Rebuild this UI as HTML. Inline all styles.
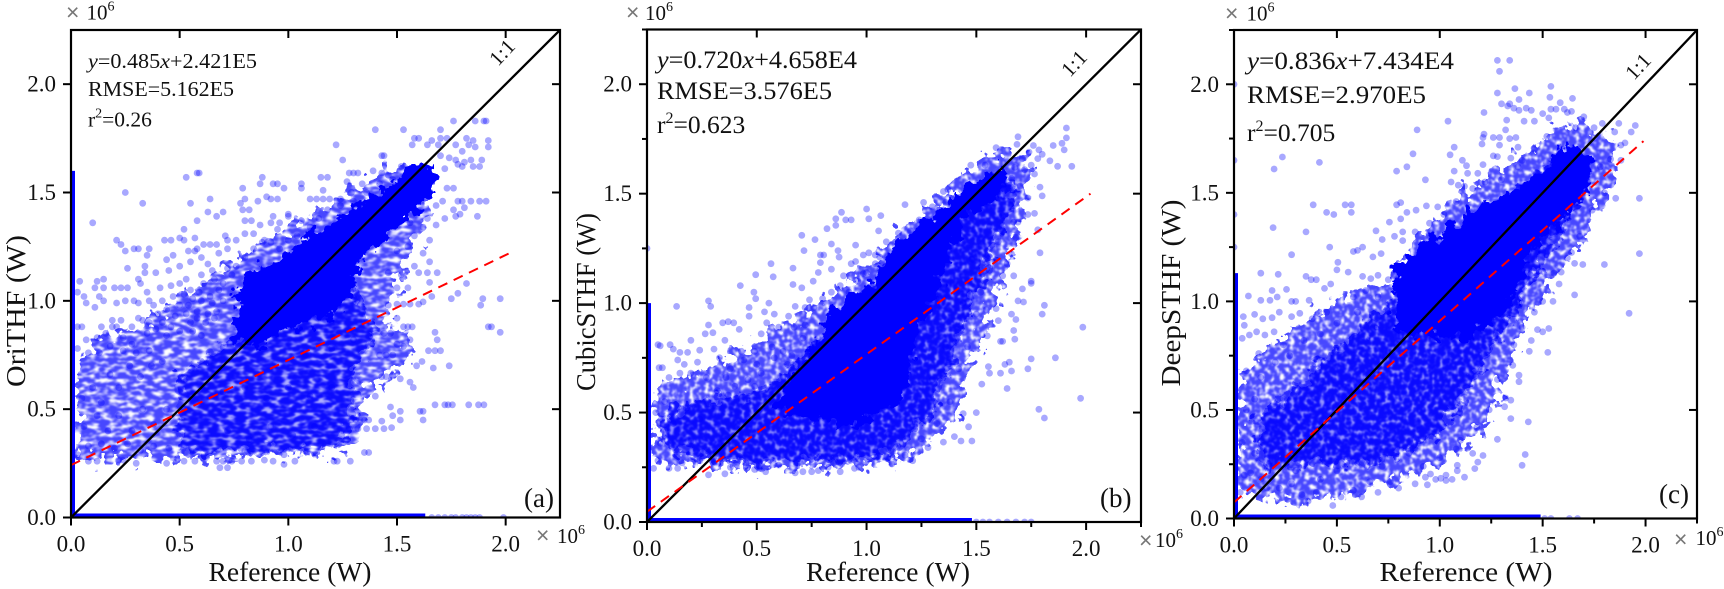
<!DOCTYPE html>
<html lang="en">
<head>
<meta charset="utf-8">
<title>Reference vs estimated THF scatter panels</title>
<style>
html,body{margin:0;padding:0;background:#fff;}
svg{display:block;}
text{font-family:"Liberation Serif",serif;fill:#111;}
.tick{font-size:23px;}
.title{font-size:27px;}
.note{font-size:21.5px;}
.note-big{font-size:25.5px;}
.tag{font-size:27px;}
.exp{font-size:21px;}
.times{font-family:"Liberation Sans",sans-serif;font-size:23px;fill:#777;}
</style>
</head>
<body>
<svg id="figure" width="1724" height="589" viewBox="0 0 1724 589" xmlns="http://www.w3.org/2000/svg">
<defs>
<clipPath id="clip-a"><rect x="71" y="30" width="489" height="487.5"/></clipPath>
<clipPath id="clip-b"><rect x="647" y="29.5" width="494" height="492.5"/></clipPath>
<clipPath id="clip-c"><rect x="1234" y="30" width="463" height="488.5"/></clipPath>
<filter id="rough" x="-8%" y="-8%" width="116%" height="116%" color-interpolation-filters="sRGB">
  <feTurbulence type="fractalNoise" baseFrequency="0.11" numOctaves="3" seed="5" result="n"/>
  <feDisplacementMap in="SourceGraphic" in2="n" scale="26" xChannelSelector="R" yChannelSelector="G"/>
</filter>
<filter id="speckle" x="-8%" y="-8%" width="116%" height="116%" color-interpolation-filters="sRGB">
  <feTurbulence type="fractalNoise" baseFrequency="0.09" numOctaves="3" seed="11" result="n"/>
  <feDisplacementMap in="SourceGraphic" in2="n" scale="34" xChannelSelector="R" yChannelSelector="G" result="d"/>
  <feTurbulence type="fractalNoise" baseFrequency="0.2" numOctaves="2" seed="3" result="n2"/>
  <feColorMatrix in="n2" type="matrix" values="0 0 0 0 0  0 0 0 0 0  0 0 0 0 0  4 0 0 0 -1.1" result="holes"/>
  <feGaussianBlur in="holes" stdDeviation="0.7" result="soft"/>
  <feComposite in="d" in2="soft" operator="in"/>
</filter>
<filter id="speckle-rows" x="-8%" y="-8%" width="116%" height="116%" color-interpolation-filters="sRGB">
  <feTurbulence type="fractalNoise" baseFrequency="0.09" numOctaves="3" seed="11" result="n"/>
  <feDisplacementMap in="SourceGraphic" in2="n" scale="34" xChannelSelector="R" yChannelSelector="G" result="d"/>
  <feTurbulence type="fractalNoise" baseFrequency="0.11 0.24" numOctaves="2" seed="8" result="n2"/>
  <feColorMatrix in="n2" type="matrix" values="0 0 0 0 0  0 0 0 0 0  0 0 0 0 0  4 0 0 0 -1.2" result="holes"/>
  <feGaussianBlur in="holes" stdDeviation="0.7" result="soft"/>
  <feComposite in="d" in2="soft" operator="in"/>
</filter>
</defs>

<g id="panel-a">
<g id="marks-a" clip-path="url(#clip-a)"></g>
<g id="axes-a"></g>
<text class="title" x="290" y="581" text-anchor="middle" textLength="163" lengthAdjust="spacingAndGlyphs">Reference (W)</text>
<text class="title" transform="translate(25,311) rotate(-90)" text-anchor="middle" textLength="152" lengthAdjust="spacingAndGlyphs">OriTHF (W)</text>
<text class="note" x="88" y="68" textLength="169" lengthAdjust="spacingAndGlyphs"><tspan font-style="italic">y</tspan>=0.485<tspan font-style="italic">x</tspan>+2.421E5</text>
<text class="note" x="88" y="96" textLength="146" lengthAdjust="spacingAndGlyphs">RMSE=5.162E5</text>
<text class="note" x="88" y="126.5" font-size="22.5">r<tspan font-size="14" dy="-9">2</tspan><tspan dy="9">=0.26</tspan></text>
<text class="tag" x="524" y="507">(a)</text>
<text font-size="21" transform="translate(498,67) rotate(-47)">1:1</text>
<text class="times" x="66" y="20">×</text>
<text class="exp" x="86.5" y="19.5">10<tspan font-size="14" dy="-9">6</tspan></text>
<text class="times" x="536" y="543">×</text>
<text class="exp" x="557" y="543">10<tspan font-size="14" dy="-9">6</tspan></text>
</g>

<g id="panel-b">
<g id="marks-b" clip-path="url(#clip-b)"></g>
<g id="axes-b"></g>
<text class="title" x="888" y="581" text-anchor="middle" textLength="164" lengthAdjust="spacingAndGlyphs">Reference (W)</text>
<text class="title" transform="translate(595,302) rotate(-90)" text-anchor="middle" textLength="178" lengthAdjust="spacingAndGlyphs">CubicSTHF (W)</text>
<text class="note-big" x="657" y="68" textLength="200" lengthAdjust="spacingAndGlyphs"><tspan font-style="italic">y</tspan>=0.720<tspan font-style="italic">x</tspan>+4.658E4</text>
<text class="note-big" x="657" y="99" textLength="175" lengthAdjust="spacingAndGlyphs">RMSE=3.576E5</text>
<text class="note-big" x="657" y="133" font-size="26.5">r<tspan font-size="16" dy="-10">2</tspan><tspan dy="10">=0.623</tspan></text>
<text class="tag" x="1100" y="507">(b)</text>
<text font-size="21" transform="translate(1070,78) rotate(-47)">1:1</text>
<text class="times" x="626" y="20">×</text>
<text class="exp" x="645" y="20">10<tspan font-size="14" dy="-9">6</tspan></text>
<text class="times" x="1139" y="548">×</text>
<text class="exp" x="1155" y="547">10<tspan font-size="14" dy="-9">6</tspan></text>
</g>

<g id="panel-c">
<g id="marks-c" clip-path="url(#clip-c)"></g>
<g id="axes-c"></g>
<text class="title" x="1466" y="581" text-anchor="middle" textLength="173" lengthAdjust="spacingAndGlyphs">Reference (W)</text>
<text class="title" transform="translate(1180,293) rotate(-90)" text-anchor="middle" textLength="187" lengthAdjust="spacingAndGlyphs">DeepSTHF (W)</text>
<text class="note-big" x="1247" y="69" textLength="207" lengthAdjust="spacingAndGlyphs"><tspan font-style="italic">y</tspan>=0.836<tspan font-style="italic">x</tspan>+7.434E4</text>
<text class="note-big" x="1247" y="103" textLength="179" lengthAdjust="spacingAndGlyphs">RMSE=2.970E5</text>
<text class="note-big" x="1247" y="141">r<tspan font-size="16" dy="-10">2</tspan><tspan dy="10">=0.705</tspan></text>
<text class="tag" x="1659" y="503">(c)</text>
<text font-size="21" transform="translate(1634,81) rotate(-47)">1:1</text>
<text class="times" x="1225" y="21">×</text>
<text class="exp" x="1246.5" y="20.5">10<tspan font-size="14" dy="-9">6</tspan></text>
<text class="times" x="1674" y="547">×</text>
<text class="exp" x="1695.5" y="545">10<tspan font-size="14" dy="-9">6</tspan></text>
</g>
</svg>

<script>
// Shared axis values (units of 10^6 W)
const tickValues = [0, 0.5, 1, 1.5, 2];
const tickLabels = ['0.0', '0.5', '1.0', '1.5', '2.0'];
const minorTickValues = [0.25, 0.75, 1.25, 1.75, 2.25];
const identityLine = [0, 2.25];

// Fit lines
const fitXA = [0, 2.036];
const fitYA = [0.242, 1.229];
const fitXB = [0, 2.02];
const fitYB = [0.047, 1.5];
const fitXC = [0, 1.99];
const fitYC = [0.074, 1.738];

// Extent of the solid runs of zero-valued samples along each axis
const zeroRefEndA = [1.6];
const zeroRefEndB = [1.0];
const zeroRefEndC = [1.13];
const zeroEstEndA = [1.63];
const zeroEstEndB = [1.48];
const zeroEstEndC = [1.49];

// Sparse samples on the zero lines
const zeroEstSparseA = [1.66,1.69,1.72,1.75,1.77,1.8,1.82,1.84,1.86,1.88,1.99];
const zeroEstSparseB = [1.5,1.53,1.56,1.6,1.64,1.68,1.72,1.75];
const zeroEstSparseC = [1.51,1.54,1.63,1.67];
const zeroRefSparseC = [1.25,1.4,1.65,2.0];
const zeroRefSparseB = [1.25];

// Region outlines (x,y alternating) for the areas too dense to resolve single samples
const cloudA = [.03,.27,.5,.27,1.25,.3,1.35,.38,1.33,.55,1.42,.62,1.55,.72,1.55,.85,1.45,.9,1.5,1.1,1.6,1.3,1.66,1.45,1.64,1.62,1.5,1.62,1.3,1.52,1.05,1.36,.85,1.25,.7,1.15,.45,.98,.3,.88,.1,.8,.03,.65];
const midA = [.5,.3,1.22,.32,1.3,.45,1.3,.7,1.4,.85,1.3,1.05,1.0,.95,.7,.8,.5,.65];
const coreA = [.785,1.125,.946,1.17,1.115,1.325,1.27,1.4,1.42,1.51,1.575,1.617,1.65,1.625,1.68,1.54,1.605,1.43,1.5,1.34,1.345,1.2,1.3,1.063,1.22,.94,.99,.863,.855,.786,.747,.817,.762,1];
const cloudB = [.03,.28,.25,.26,.5,.24,1.05,.26,1.25,.32,1.4,.45,1.45,.65,1.55,.9,1.65,1.2,1.72,1.42,1.74,1.66,1.6,1.7,1.3,1.46,1.08,1.25,.9,1.08,.78,1.0,.65,.92,.45,.8,.25,.68,.05,.62];
const midB = [.4,.27,1.1,.3,1.3,.5,1.42,.85,1.58,1.25,1.68,1.5,1.6,1.6,1.3,1.35,1,1.05,.75,.8,.55,.6,.25,.55,.08,.5,.08,.35,.2,.3];
const coreB = [.78,.83,.84,.98,1.02,1.09,1.11,1.24,1.31,1.41,1.43,1.51,1.61,1.63,1.64,1.59,1.6,1.47,1.46,1.4,1.39,1.25,1.31,1.01,1.235,.89,1.17,.555,.93,.43,.7,.48,.57,.525];
const cloudC = [.02,.12,.25,.07,.55,.1,.85,.2,1.05,.28,1.22,.42,1.35,.75,1.45,.95,1.58,1.15,1.74,1.35,1.87,1.6,1.82,1.78,1.6,1.82,1.35,1.64,1.15,1.52,.95,1.36,.78,1.1,.55,1.03,.35,.92,.15,.78,.03,.65];
const midC = [.3,.25,.7,.25,1,.4,1.2,.7,1.38,1,1.6,1.35,1.75,1.6,1.6,1.7,1.3,1.45,1,1.25,.75,.98,.5,.78,.3,.6,.12,.45,.12,.25];
const coreC = [.78,1.16,.89,1.25,1.06,1.345,1.18,1.44,1.3,1.48,1.48,1.59,1.62,1.73,1.75,1.66,1.7,1.47,1.54,1.33,1.41,1.16,1.35,.98,1.15,.82,.89,.85,.78,.87];

// Individual samples: reference, estimate alternating (units of 10^6 W)
const samplesOriTHF = [
1.91,1.83,1.9,1.83,1.86,1.83,1.76,1.83,1.4,1.79,1.53,1.79,1.7,1.79,1.22,1.72,1.58,1.75,1.6,1.75,1.66,1.74,1.7,1.75,1.73,1.75,1.82,1.75,1.85,1.74,1.92,1.74,1.57,1.72,1.64,1.72,1.69,1.72,1.77,1.72,1.83,1.72,1.86,1.71,1.92,1.71,1.43,1.67,1.44,1.67,1.25,1.65,1.8,1.69,1.7,1.67,1.74,1.66,1.77,1.65,1.78,1.63,1.81,1.64,1.84,1.65,1.89,1.65,1.8,1.62,1.85,1.62,1.88,1.62,1.72,1.61,
1.28,1.59,1.3,1.59,1.32,1.59,1.39,1.6,1.43,1.59,1.46,1.58,.59,1.59,.58,1.59,.53,1.57,1.15,1.57,1.18,1.57,.88,1.57,.87,1.54,.93,1.54,.95,1.54,.79,1.52,.98,1.52,1.06,1.54,1.06,1.52,1.16,1.51,1.27,1.55,1.34,1.54,1.73,1.52,1.76,1.52,1.71,1.46,1.78,1.46,1.8,1.46,1.84,1.46,1.88,1.46,1.91,1.46,1.76,1.42,1.79,1.4,1.81,1.43,1.87,1.39,1.77,1.39,
.25,1.5,.33,1.45,.55,1.45,.64,1.47,.8,1.47,.86,1.46,.9,1.48,.92,1.47,.95,1.47,1.1,1.47,1.13,1.47,1.16,1.47,1.19,1.47,1.24,1.47,1.29,1.5,.63,1.41,.7,1.41,.78,1.45,.79,1.42,.82,1.42,.67,1.39,.1,1.36,.58,1.37,.8,1.37,.83,1.37,.93,1.39,1,1.4,1,1.39,.92,1.36,.96,1.36,1.06,1.37,.52,1.33,.57,1.29,.95,1.33,.87,1.35,.84,1.31,.71,1.3,
.21,1.28,.23,1.26,.43,1.28,.46,1.28,.5,1.29,.52,1.28,.8,1.31,.76,1.28,.72,1.28,.89,1.28,.92,1.27,.25,1.23,.29,1.24,.31,1.24,.36,1.24,.35,1.21,.61,1.26,.58,1.24,.64,1.26,.67,1.26,.72,1.24,.68,1.22,.47,1.21,.44,1.19,.54,1.23,.57,1.23,.6,1.2,.63,1.17,.26,1.15,.34,1.16,.34,1.13,.39,1.13,.45,1.14,.5,1.16,.55,1.18,.31,1.1,.32,1.08,
.04,1.09,.15,1.1,.12,1.09,.11,1.06,.26,1.06,.23,1.06,.2,1.06,.15,1.06,.53,1.1,.66,1.1,.03,1.04,.06,1.02,.13,1.02,.15,1,.11,.97,.07,.99,.21,.99,.25,1,.29,1,.31,.99,.35,1.04,.36,1,.41,1.06,.46,1.07,.5,1.08,.55,1.05,.59,1.04,.61,1.08,.03,.88,.05,.88,.14,.88,.19,.91,.23,.91,.19,.88,.21,.88,.28,.88,.31,.92,.33,.91,.36,.9,.4,.94,.44,.96,.5,.98,.54,.98,.58,.95,.65,.99,
.07,.82,.12,.83,.16,.85,.24,.83,.28,.8,.35,.85,.39,.87,.44,.84,.5,.86,.55,.9,.62,.9,.67,.95,.7,1,.03,.78,.08,.76,.13,.76,.18,.79,.24,.77,.3,.76,.36,.77,
.38,.98,.42,1,.47,1.02,.52,1.03,.56,1.01,.6,1,.64,1.02,.68,1.05,.7,1.08,.74,1.12,.76,1.16,.72,1.15,.65,1.14,.6,1.12,.48,.93,.53,.94,.58,.92,.63,.94,.66,.92,.42,.9,.46,.88,.56,.86,.6,.84,
.8,1.2,.84,1.24,.88,1.27,.96,1.24,1,1.28,1.04,1.3,1.1,1.34,1.14,1.38,1.18,1.42,1.24,1.44,1.3,1.46,1.36,1.5,1.42,1.54,1.48,1.56,1.52,1.62,
1.675,.52,1.72,.52,1.735,.52,1.755,.52,1.83,.52,1.875,.52,1.9,.52,1.935,.88,1.92,.88,1.975,.855,1.885,.98,1.895,1.01,1.975,1.01,1.82,1.08,1.78,1.035,1.75,1.01,1.685,1.13,1.65,1.18,1.6,1.13,1.64,1.13,1.65,1.085,1.66,1.02,1.62,.995,1.675,.855,1.685,.82,1.645,.77,1.675,.77,1.7,.77,1.615,.72,1.59,.7,1.667,.69,1.74,.7,1.515,.49,1.606,.49,1.62,.49,1.62,.45,1.47,.51,1.48,.47,1.515,.45,1.43,.445,1.475,.415,1.44,.41,1.4,.41,1.4,.56,1.43,.65,1.45,.65,1.48,.655,1.515,.64,1.56,.625,1.575,.6,1.35,.3,1.37,.3,1.21,.26,1.225,.26,1.285,.26,
.685,.23,.72,.23,.67,.26,.7,.26,.74,.26,.785,.26,.83,.26,.89,.265,.93,.26,.98,.245,1.03,.26,.98,.29,.44,.25,.52,.26,.57,.26,.3,.25,.22,.265,.24,.265,.12,.26,.08,.26,.03,.29,
1.29,.45,1.31,.45,1.33,.45,1.35,.45,1.37,.45,1.28,.41,1.32,.41,1.36,.41,1.53,.88,1.55,.88,1.57,.88,1.5,.985,1.53,.985,1.56,.985,1.6,.985,1.42,.75,1.45,.75,1.48,.75,1.5,.8,1.53,.79,1.56,.82,1.44,.85,1.47,.85,1.5,.92,1.46,.98,1.5,1.06,1.55,1.06,1.52,1.12,1.46,1.13,1.5,1.23,1.55,1.25,1.58,1.3,1.62,1.34,1.56,1.36,1.64,1.38,1.68,1.44,1.72,1.38,1.68,1.35,1.65,1.28,1.62,1.22,1.58,1.16,
.05,.55,.1,.6,.14,.53,.18,.66,.22,.6,.27,.7,.32,.65,.37,.7,.42,.72,.06,.42,.12,.47,.17,.4,.22,.47,.28,.4,.33,.5,.38,.43,.44,.5,.08,.33,.14,.34,.2,.32,.26,.34,.32,.31,.38,.33,.45,.32,.62,.6,.7,.58,.8,.6,.9,.55,1,.6,1.1,.56,1.2,.6,1.08,.75,1.2,.78,1.3,.82,.72,.4,.82,.36,.92,.42,1.02,.38,1.12,.42
];
const samplesCubicSTHF = [
1.69,1.76,1.59,1.71,1.76,1.72,1.74,1.69,1.78,1.66,1.475,1.63,1.54,1.63,1.35,1.51,1.37,1.52,1.26,1.46,1.175,1.45,1,1.43,.886,1.415,1.01,1.385,1.065,1.4,.86,1.385,.905,1.38,.93,1.38,.82,1.34,.86,1.355,1.055,1.33,.705,1.31,.765,1.29,.84,1.27,.95,1.265,.715,1.24,.87,1.24,.79,1.22,.805,1.22,.875,1.21,.985,1.22,1.01,1.23,1.04,1.22,1.06,1.21,
.565,1.18,.79,1.185,.84,1.155,.93,1.18,.95,1.19,1.09,1.28,1.145,1.32,.665,1.16,.495,1.13,.575,1.12,.78,1.14,.895,1.125,.985,1.135,.665,1.085,.705,1.07,.757,1.1,.425,1.08,.487,1.05,.495,1.02,.28,1.01,.29,.985,.135,.985,.555,1,.465,.98,.535,.96,.58,.95,.675,.985,.74,1.015,.72,.98,.645,.94,.465,.94,.545,.91,.28,.9,.345,.91,.37,.915,.395,.91,
.265,.86,.3,.865,.42,.88,.2,.83,.05,.81,.06,.805,.105,.81,.12,.79,.15,.775,.185,.775,.24,.785,.14,.74,.055,.705,.07,.705,.17,.72,.23,.73,.305,.79,.355,.83,.43,.78,.49,.78,.52,.86,.6,.89,.67,.89,.33,.75,.38,.7,.44,.74,.5,.72,.57,.8,.62,.78,.71,.84,.1,.66,.15,.68,.2,.68,.27,.66,.36,.66,
.03,.245,.1,.245,.14,.245,.28,.215,.355,.22,.49,.24,.515,.245,.54,.23,.675,.225,.71,.23,.75,.23,.78,.235,.88,.23,.945,.245,.965,.25,.825,.25,1.115,.265,1.21,.28,1.175,.305,1.28,.34,1.35,.365,1.4,.39,1.43,.37,1.48,.37,1.465,.435,1.5,.5,1.44,.495,1.64,.61,1.525,.63,1.56,.68,1.61,.68,1.66,.69,1.555,.71,1.75,.745,1.63,.72,1.65,.73,1.675,.835,1.67,.875,1.61,.825,1.62,.825,1.55,.85,1.6,.92,1.66,.95,1.68,.925,1.545,.97,1.59,.975,1.69,1.01,1.715,1.005,1.71,1.065,1.75,1.1,1.75,1.09,1.8,.95,1.81,.99,1.62,1.125,1.67,1.125,1.64,1.18,1.79,1.23,1.66,1.225,1.68,1.3,1.78,1.335,1.735,1.405,1.765,1.41,1.67,1.37,1.69,1.37,1.735,1.48,1.79,1.53,1.8,1.49,1.65,1.525,1.7,1.535,1.66,1.57,1.72,1.61,1.765,1.59,1.675,1.62,
1.985,.89,1.86,.75,1.975,.565,1.785,.515,1.81,.475,1.735,.7,1.91,1.755,1.89,1.73,1.87,1.625,1.835,1.65,1.785,1.7,1.685,1.725,1.935,1.625,1.91,1.8,1.8,1.68,1.85,1.72,1.9,1.7,1.71,1.66,1.75,1.63,
.04,.5,.08,.55,.12,.45,.18,.52,.24,.47,.3,.53,.37,.58,.43,.55,.49,.62,.06,.36,.13,.33,.2,.37,.28,.32,.35,.37,.42,.3,.05,.28,.16,.27,.24,.28,.38,.25,.45,.27,.6,.26,.7,.27,.85,.27,.95,.29,1.05,.3,1.15,.34,1.25,.38,1.32,.45,1.38,.55,1.42,.7,1.46,.8,1.5,.95,1.52,1.05,1.56,1.15,1.6,1.28,1.62,1.4,1.56,1.35,1.48,1.2,1.44,1,1.36,.8,1.3,.65,1.22,.45,1.1,.4,.68,.72,.72,.9,.66,.76,
.76,.98,.8,1.02,.84,1.05,.88,1.08,.92,1.05,.96,1.1,1,1.14,1.04,1.18,1.08,1.16,1.12,1.2,1.16,1.28,1.2,1.33,1.24,1.38,1.3,1.44,1.36,1.46,.58,.75,.64,.72,.52,.68,.46,.65,.4,.62,.32,.6
];
const samplesDeepSTHF = [
1.28,2.11,1.34,2.11,1.29,2.06,1.54,1.99,1.365,1.98,1.435,1.96,1.28,1.96,1.535,1.94,1.645,1.935,1.3,1.91,1.34,1.91,1.385,1.93,1.33,1.9,1.36,1.89,1.585,1.915,1.215,1.87,1.385,1.88,1.42,1.89,1.445,1.88,1.54,1.885,1.565,1.885,1.605,1.885,1.64,1.875,1.5,1.865,1.53,1.845,1.04,1.83,1.325,1.835,1.41,1.83,1.46,1.83,.89,1.79,1.32,1.79,1.215,1.77,1.21,1.755,1.26,1.755,1.29,1.755,1.34,1.75,1.37,1.755,1.205,1.725,1.29,1.72,1.38,1.71,1.07,1.71,1.05,1.675,.87,1.68,.235,1.665,.415,1.64,.195,1.61,.79,1.6,.84,1.62,1.26,1.67,1.28,1.667,1.345,1.66,1.4,1.65,1.11,1.65,1.13,1.625,1.21,1.63,1.07,1.6,1.135,1.59,1.185,1.59,.93,1.56,1.055,1.55,1.09,1.535,1.12,1.53,
.385,1.445,.54,1.445,.57,1.445,.79,1.445,.81,1.455,.45,1.41,.485,1.4,.57,1.41,.19,1.34,.35,1.32,.69,1.325,.755,1.365,.81,1.38,.84,1.41,.885,1.42,.935,1.44,.99,1.435,.465,1.25,.625,1.25,.6,1.235,.58,1.23,.72,1.285,.78,1.3,.82,1.32,.28,1.215,.715,1.22,.675,1.205,.13,1.13,.215,1.125,.505,1.18,.5,1.145,.555,1.135,.625,1.115,.665,1.105,.35,1.115,.375,1.1,.4,1.1,.185,1.05,.255,1.055,.07,1.025,.13,1.005,.175,1.005,.21,1.02,.28,1,.3,1,.365,1.005,.44,1.06,.47,1.08,.045,.93,.1,.94,.14,.92,.185,.925,.22,.95,.05,.89,.04,.83,.075,.845,.11,.86,.15,.845,.195,.86,.28,.93,.32,.945,.41,.945,
1.655,1.03,1.655,1.175,1.64,1.225,1.59,1.135,1.555,1.13,1.55,1,1.525,.765,1.435,.77,1.53,.875,1.5,.86,1.475,.87,1.445,.82,1.385,.66,1.385,.63,1.355,.705,1.43,.445,1.345,.545,1.32,.555,1.315,.515,1.345,.46,1.28,.365,1.415,.295,1.4,.245,1.21,.29,1.16,.3,1.185,.26,1.17,.23,1.12,.19,1.085,.22,1.085,.245,1.06,.18,1.03,.175,1.005,.185,.98,.18,.955,.205,1.03,.2,.93,.19,.94,.155,
.48,.06,.33,.11,.22,.14,.13,.18,.08,.21,.58,.13,.62,.1,.7,.12,.76,.17,.8,.14,.88,.16,.66,.17,.4,.12,.03,.12,.05,.2,.16,.14,.28,.16,.36,.08,.52,.1,.92,.24,1,.28,1.1,.36,
1.79,1.82,1.87,1.82,1.95,1.81,1.93,1.78,1.97,1.475,1.97,1.22,1.92,.945,1.8,1.17,1.695,1.17,1.695,1.52,1.855,1.475,1.83,1.655,1.9,1.73,1.88,1.65,1.75,1.8,1.7,1.85,1.66,1.8,1.62,1.87,1.88,1.72,1.85,1.78,1.78,1.62,1.8,1.5,1.74,1.42,1.68,1.3,1.62,1.2,1.58,1.08,1.5,1,1.46,.95,1.4,.88,1.36,.8,1.28,.64,1.24,.5,1.18,.42,1.08,.32,
.06,.5,.1,.55,.06,.68,.13,.65,.2,.72,.27,.75,.34,.82,.42,.85,.5,.9,.6,.95,.7,1.02,.75,1.1,.04,.35,.1,.3,.17,.25,.3,.22,.42,.18,.5,.22,.72,.24,.85,.3,
.82,1.28,.88,1.32,.95,1.36,1.02,1.4,1.08,1.46,1.16,1.52,1.22,1.55,1.3,1.56,1.38,1.62,1.46,1.7,1.52,1.76,.58,1.02,.64,1.05,.7,1.12,.45,.95,.38,.92,.24,.8,.12,.76
];

const panels = [
  {id:'a', left:71, right:560, top:30, bottom:517.5, minor:false, speckle:'speckle-rows', base:0.32, samples:samplesOriTHF, cloud:cloudA, mid:midA, core:coreA, fitX:fitXA, fitY:fitYA, zeroRefEnd:zeroRefEndA, zeroEstEnd:zeroEstEndA, zeroEstSparse:zeroEstSparseA, zeroRefSparse:[]},
  {id:'b', left:647, right:1141, top:29.5, bottom:522, minor:true, speckle:'speckle', base:0.45, samples:samplesCubicSTHF, cloud:cloudB, mid:midB, core:coreB, fitX:fitXB, fitY:fitYB, zeroRefEnd:zeroRefEndB, zeroEstEnd:zeroEstEndB, zeroEstSparse:zeroEstSparseB, zeroRefSparse:zeroRefSparseB},
  {id:'c', left:1234, right:1697, top:30, bottom:518.5, minor:true, speckle:'speckle', base:0.42, samples:samplesDeepSTHF, cloud:cloudC, mid:midC, core:coreC, fitX:fitXC, fitY:fitYC, zeroRefEnd:zeroRefEndC, zeroEstEnd:zeroEstEndC, zeroEstSparse:zeroEstSparseC, zeroRefSparse:zeroRefSparseC}
];

const NS = 'http://www.w3.org/2000/svg';
function make(tag, parent, props) {
  const el = document.createElementNS(NS, tag);
  for (const k in props) el.setAttribute(k, props[k]);
  parent.appendChild(el);
  return el;
}
function xPos(p, v) { return p.left + v / 2.25 * (p.right - p.left); }
function yPos(p, v) { return p.bottom - v / 2.25 * (p.bottom - p.top); }

function region(p, g, flat, opacity, filterId) {
  const pts = [];
  for (let i = 0; i + 1 < flat.length; i += 2) pts.push(xPos(p, flat[i]).toFixed(1) + ',' + yPos(p, flat[i + 1]).toFixed(1));
  const el = make('polygon', g, {points: pts.join(' '), fill: '#0000ff', 'fill-opacity': opacity, filter: 'url(#' + filterId + ')'});
  
  
}

function dot(p, g, xv, yv) {
  const el = make('circle', g, {cx: xPos(p, xv).toFixed(1), cy: yPos(p, yv).toFixed(1), r: 3.4, fill: '#0000ff', 'fill-opacity': 0.34});
  
  
}

function drawMarks(p) {
  const g = document.getElementById('marks-' + p.id);
  region(p, g, p.mid, p.base, 'rough');
  region(p, g, p.cloud, 0.72, p.speckle);
  region(p, g, p.mid, 0.75, p.speckle);
  region(p, g, p.core, 1, 'rough');
  for (let i = 0; i + 1 < p.samples.length; i += 2) dot(p, g, p.samples[i], p.samples[i + 1]);
  p.zeroEstSparse.forEach(function (v) { dot(p, g, v, 0); });
  p.zeroRefSparse.forEach(function (v) { dot(p, g, 0, v); });

  const estBand = make('line', g, {x1: xPos(p, 0), y1: yPos(p, 0), x2: xPos(p, p.zeroEstEnd[0]), y2: yPos(p, 0), stroke: '#0000ff', 'stroke-width': 8});
  
  
  const refBand = make('line', g, {x1: xPos(p, 0), y1: yPos(p, 0), x2: xPos(p, 0), y2: yPos(p, p.zeroRefEnd[0]), stroke: '#0000ff', 'stroke-width': 8});
  
  

  const one = make('line', g, {x1: xPos(p, identityLine[0]), y1: yPos(p, identityLine[0]), x2: xPos(p, identityLine[1]), y2: yPos(p, identityLine[1]), stroke: '#000', 'stroke-width': 2.3});
  
  
  const fit = make('line', g, {x1: xPos(p, p.fitX[0]), y1: yPos(p, p.fitY[0]), x2: xPos(p, p.fitX[1]), y2: yPos(p, p.fitY[1]), stroke: '#ff0000', 'stroke-width': 2, 'stroke-dasharray': '10 7'});
  
  
}

function tick(g, x1, y1, x2, y2, name) {
  const el = make('line', g, {x1: x1, y1: y1, x2: x2, y2: y2, stroke: '#000', 'stroke-width': 2});
  
  
}

function drawAxes(p) {
  const g = document.getElementById('axes-' + p.id);
  tickValues.forEach(function (v, i) {
    const x = xPos(p, v), y = yPos(p, v);
    tick(g, x, p.bottom, x, p.bottom + 8, 'x-tick');
    tick(g, x, p.top, x, p.top + 8, 'top-tick');
    tick(g, p.left, y, p.left - 8, y, 'y-tick');
    tick(g, p.right, y, p.right - 8, y, 'right-tick');
    const xl = make('text', g, {class: 'tick', x: x, y: p.bottom + 34, 'text-anchor': 'middle'});
    xl.textContent = tickLabels[i];
    
    
    const yl = make('text', g, {class: 'tick', x: p.left - 15, y: y + 7.5, 'text-anchor': 'end'});
    yl.textContent = tickLabels[i];
    
    
  });
  if (p.minor) {
    minorTickValues.forEach(function (v) {
      tick(g, xPos(p, v), p.bottom, xPos(p, v), p.bottom + 5, 'x-minor-tick');
      tick(g, p.left, yPos(p, v), p.left - 5, yPos(p, v), 'y-minor-tick');
    });
  }
  const frame = make('rect', g, {x: p.left, y: p.top, width: p.right - p.left, height: p.bottom - p.top, fill: 'none', stroke: '#000', 'stroke-width': 2.2});
  
  
}

panels.forEach(function (p) { drawMarks(p); drawAxes(p); });
</script>
</body>
</html>
